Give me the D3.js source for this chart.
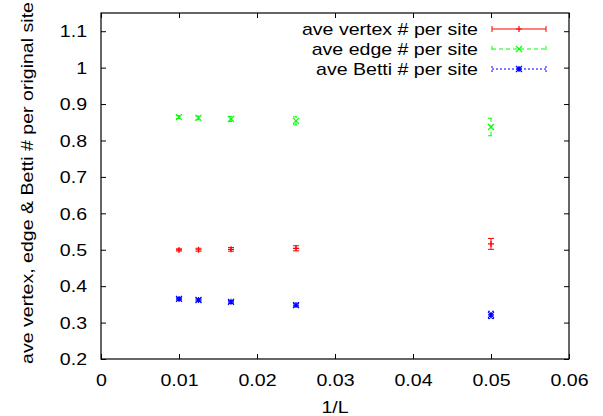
<!DOCTYPE html>
<html>
<head>
<meta charset="utf-8">
<script src="https://cdn.jsdelivr.net/npm/d3@7"></script>
<style>
  body { margin: 0; background: #fff; }
  text { font-family: "Liberation Sans", Arial, sans-serif; }
</style>
</head>
<body>
<svg id="chart" width="603" height="416"></svg>
<script>
// data
const invL = [0.01, 0.0125, 0.016667, 0.025, 0.05]
const vertexVals = [0.4995, 0.5, 0.501, 0.504, 0.516]
const vertexErr = [0.003, 0.004, 0.005, 0.007, 0.015]
const edgeVals = [0.864, 0.862, 0.859, 0.854, 0.837]
const edgeErr = [0.004, 0.005, 0.007, 0.011, 0.024]
const bettiVals = [0.365, 0.362, 0.357, 0.348, 0.321]
const bettiErr = [0.003, 0.003, 0.004, 0.005, 0.01]
const xTicks = [0, 0.01, 0.02, 0.03, 0.04, 0.05, 0.06]
const yTicks = [0.2, 0.3, 0.4, 0.5, 0.6, 0.7, 0.8, 0.9, 1, 1.1]

const series = [
  { name: 'ave vertex # per site', vals: vertexVals, err: vertexErr, color: '#ff0000', dash: null, mark: 'plus' },
  { name: 'ave edge # per site', vals: edgeVals, err: edgeErr, color: '#00ff00', dash: '4,3', mark: 'cross' },
  { name: 'ave Betti # per site', vals: bettiVals, err: bettiErr, color: '#0000ff', dash: '2,2', mark: 'star' }
]

const margin = { top: 13, right: 34, bottom: 57, left: 101 }
const width = 603 - (margin.left + margin.right)
const height = 416 - (margin.top + margin.bottom)
const fontSize = 17

const svg = d3.select('#chart')

// the original font is a bit wider than Liberation Sans, stretch it
function stretch(sel) {
  sel.each(function () {
    const w = this.getComputedTextLength()
    d3.select(this).attr('textLength', w * 1.15).attr('lengthAdjust', 'spacingAndGlyphs')
  })
}

const xscale = d3.scaleLinear()
  .domain([0, 0.06])
  .range([margin.left, margin.left + width])
const yscale = d3.scaleLinear()
  .domain([0.2, 1.15])
  .range([margin.top + height, margin.top])

const fmt = d => String(+d.toFixed(2))

// bottom axis (ticks inward)
svg.append('g')
  .attr('transform', `translate(0, ${margin.top + height})`)
  .call(d3.axisBottom(xscale).tickValues(xTicks).tickSize(-5).tickFormat(fmt))
  .call(g => g.select('.domain').remove())
  .call(g => g.selectAll('text').attr('font-size', fontSize).attr('fill', '#000').attr('y', 27).attr('dy', 0))
  .call(g => g.selectAll('text').call(stretch))
// top ticks
svg.append('g')
  .attr('transform', `translate(0, ${margin.top})`)
  .call(d3.axisTop(xscale).tickValues(xTicks).tickSize(-5).tickFormat(''))
  .call(g => g.select('.domain').remove())
// left axis
svg.append('g')
  .attr('transform', `translate(${margin.left}, 0)`)
  .call(d3.axisLeft(yscale).tickValues(yTicks).tickSize(-5).tickFormat(fmt))
  .call(g => g.select('.domain').remove())
  .call(g => g.selectAll('text').attr('font-size', fontSize).attr('fill', '#000').attr('x', -14).attr('dy', '0.34em'))
  .call(g => g.selectAll('text').call(stretch))
// right ticks
svg.append('g')
  .attr('transform', `translate(${margin.left + width}, 0)`)
  .call(d3.axisRight(yscale).tickValues(yTicks).tickSize(-5).tickFormat(''))
  .call(g => g.select('.domain').remove())

// frame
svg.append('rect')
  .attr('x', margin.left)
  .attr('y', margin.top)
  .attr('width', width)
  .attr('height', height)
  .attr('fill', 'none')
  .attr('stroke', '#000')
  .attr('stroke-width', 1.2)

// axis labels
svg.append('text')
  .attr('x', xscale(0.03))
  .attr('y', 413)
  .attr('text-anchor', 'middle')
  .attr('font-size', fontSize)
  .text('1/L')
  .call(stretch)
svg.append('text')
  .attr('transform', `translate(33, ${margin.top + height / 2 - 3}) rotate(-90)`)
  .attr('text-anchor', 'middle')
  .attr('font-size', fontSize)
  .text('ave vertex, edge & Betti # per original site')
  .call(stretch)

function drawMark(g, type, x, y, color) {
  const s = 3
  const p = d3.path()
  if (type === 'plus' || type === 'star') {
    p.moveTo(x - s, y); p.lineTo(x + s, y)
    p.moveTo(x, y - s); p.lineTo(x, y + s)
  }
  if (type === 'cross' || type === 'star') {
    p.moveTo(x - s, y - s); p.lineTo(x + s, y + s)
    p.moveTo(x - s, y + s); p.lineTo(x + s, y - s)
  }
  g.append('path').attr('d', p.toString()).attr('stroke', color).attr('stroke-width', 1.2).attr('fill', 'none')
}

// error bars and points
series.forEach(s => {
  const g = svg.append('g')
  invL.forEach((x, i) => {
    const px = xscale(x)
    const y0 = yscale(s.vals[i] - s.err[i])
    const y1 = yscale(s.vals[i] + s.err[i])
    const p = d3.path()
    p.moveTo(px, y0); p.lineTo(px, y1)
    p.moveTo(px - 3, y0); p.lineTo(px + 3, y0)
    p.moveTo(px - 3, y1); p.lineTo(px + 3, y1)
    g.append('path').attr('d', p.toString()).attr('stroke', s.color).attr('stroke-width', 1)
      .attr('stroke-dasharray', s.dash).attr('fill', 'none')
    drawMark(g, s.mark, px, yscale(s.vals[i]), s.color)
  })
})

// legend
const legend = svg.append('g')
series.forEach((s, i) => {
  const ly = 29 + i * 20
  legend.append('text')
    .attr('x', 478)
    .attr('y', ly + 6)
    .attr('text-anchor', 'end')
    .attr('font-size', fontSize)
    .text(s.name)
    .call(stretch)
  const p = d3.path()
  p.moveTo(492, ly); p.lineTo(546, ly)
  p.moveTo(492, ly - 3); p.lineTo(492, ly + 3)
  p.moveTo(546, ly - 3); p.lineTo(546, ly + 3)
  legend.append('path').attr('d', p.toString()).attr('stroke', s.color).attr('stroke-width', 1)
    .attr('stroke-dasharray', s.dash).attr('fill', 'none')
  drawMark(legend, s.mark, 519, ly, s.color)
})
</script>
</body>
</html>
